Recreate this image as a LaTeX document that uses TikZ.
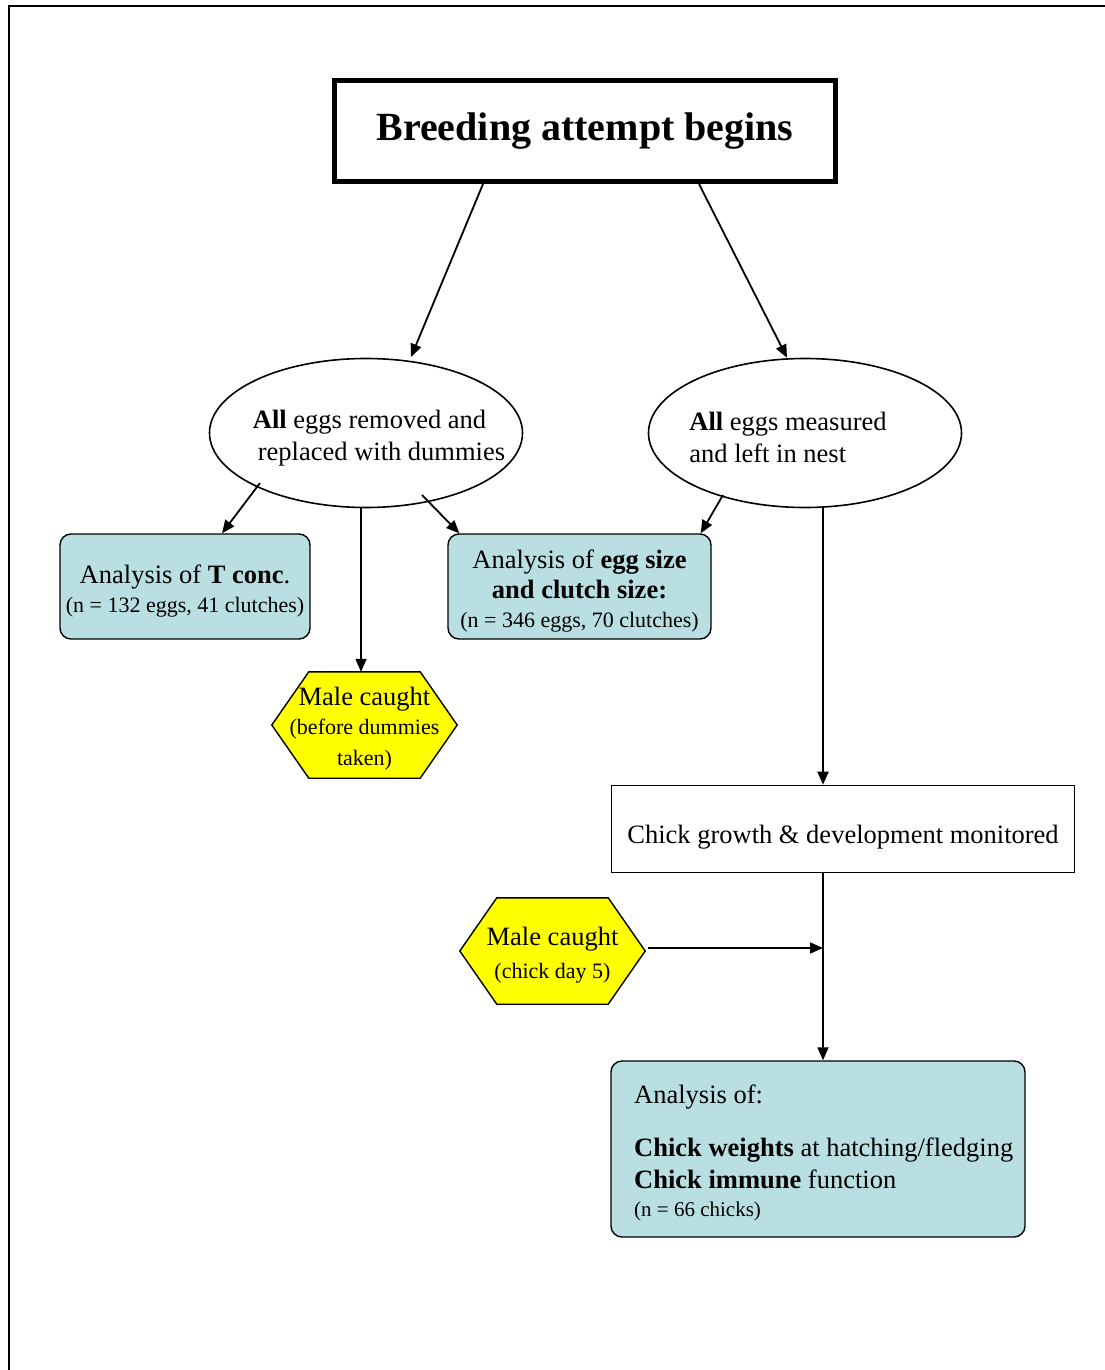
\documentclass[tikz,border=0pt]{standalone}
\usepackage{fontspec}
\setmainfont{Liberation Serif}
\usetikzlibrary{arrows.meta,shapes.geometric,backgrounds}
\definecolor{paleblue}{HTML}{B9DFE3}
\definecolor{hexyellow}{HTML}{FFFF00}
\newcommand\txtbig{\fontsize{26.5}{32}\selectfont}
\newcommand\txtsmall{\fontsize{22}{29}\selectfont}
\newcommand\txtsmallwide{\fontsize{22}{30}\selectfont}
\begin{document}
\begin{tikzpicture}[x=1pt,y=-1pt,
  conn/.style={line width=1.8pt,-{Triangle[length=13pt,width=11pt]}},
  oval/.style={draw,ellipse,line width=1.6pt,minimum width=313pt,minimum height=149pt,inner sep=0pt},
  bluebox/.style={draw,fill=paleblue,rounded corners=11pt,line width=1.4pt,inner sep=0pt},
  hexslot/.style={minimum width=185pt,minimum height=106pt,inner sep=0pt},
  hexfill/.style={fill=hexyellow,draw,line width=1.4pt,line join=miter},
  label/.style={inner sep=0pt,align=center}]

\useasboundingbox (0,0) rectangle (1105,1370);

% page frame
\draw[line width=2pt] (9,1370) -- (9,6) -- (1105,6);

% title box
\node[draw,line width=5pt,minimum width=501pt,minimum height=101pt,inner sep=0pt] (start) at (585,131)
  {\fontsize{40}{44}\selectfont\bfseries Breeding attempt begins};

% the two treatments
\node[oval] (rem) at (366,433) {};
\node[align=left,font=\txtbig] (remtxt) at (379,438)
  {\textbf{All} eggs removed and\\\hspace*{5pt}replaced with dummies};
\node[oval] (meas) at (805,433) {};
\node[align=left,font=\txtbig] (meastxt) at (788,437)
  {\textbf{All} eggs measured\\and left in nest};

% egg analyses
\node[bluebox,minimum width=250pt,minimum height=105pt] (tconc) at (185,586.5) {};
\node[label,font=\txtsmall] (tconctxt) at (185,591)
  {{\txtbig Analysis of \textbf{T conc}.}\\(n = 132 eggs, 41 clutches)};
\node[bluebox,minimum width=263pt,minimum height=105pt] (eggs) at (579.5,586.5) {};
\node[label,font=\txtsmallwide] (eggstxt) at (579.5,591.5)
  {{\txtbig Analysis of \textbf{egg size}}\\{\txtbig\textbf{and clutch size:}}\\[-1pt](n = 346 eggs, 70 clutches)};

% male captures
\node[hexslot] (male1) at (364.5,725) {};
\node[label,font=\txtsmallwide] (male1txt) at (364.5,729)
  {{\txtbig Male caught}\\[-1pt](before dummies\\[1pt]taken)};
\node[hexslot] (male2) at (552.5,951) {};
\node[label,font=\txtsmallwide] (male2txt) at (552.5,955)
  {{\txtbig Male caught}\\[3pt](chick day 5)};
\begin{scope}[on background layer]
  \foreach \h in {male1,male2}
    \draw[hexfill] ([xshift=37pt]\h.north west) -- ([xshift=-37pt]\h.north east) -- (\h.east)
      -- ([xshift=-37pt]\h.south east) -- ([xshift=37pt]\h.south west) -- (\h.west) -- cycle;
\end{scope}

% chick stage
\node[draw,line width=1.6pt,minimum width=463pt,minimum height=87pt,inner sep=0pt,
      font=\txtbig,text height=34pt,text depth=6pt] (growth) at (843,829)
  {Chick growth \& development monitored};
\node[bluebox,minimum width=414pt,minimum height=176pt] (chicks) at (818,1149) {};
\node[anchor=north west,align=left,inner sep=0pt,font=\txtbig] (chickstxt) at (634,1085)
  {Analysis of:\\[21pt]
   \textbf{Chick weights} at hatching/fledging\\
   \textbf{Chick immune} function\\[-4pt]
   {\fontsize{21}{26}\selectfont(n = 66 chicks)}};

\coordinate (trunk) at ([xshift=-20pt]growth.south);

% connectors
\draw[conn] ([xshift=-102pt]start.south) -- ([shift={(45,-76)}]rem.center);
\draw[conn] ([xshift=114pt]start.south) -- ([xshift=-18pt]meas.north);
\draw[conn] ([shift={(-106,50)}]rem.center) -- ([xshift=37pt]tconc.north);
\draw[conn] ([xshift=-5pt]rem.south) -- ([xshift=-5pt]rem.south |- male1.north);
\draw[conn] ([shift={(56,62)}]rem.center) -- ([xshift=12pt]eggs.north west);
\draw[conn] ([shift={(-82,62)}]meas.center) -- ([xshift=-11pt]eggs.north east);
\draw[conn] ([xshift=18pt]meas.south) -- ([xshift=-20pt]growth.north);
\draw[conn] (trunk) -- (trunk |- chicks.north);
\draw[conn,shorten <=3pt] ([yshift=3pt]male2.east) -- ([yshift=3pt]male2.east -| trunk);
\end{tikzpicture}
\end{document}
